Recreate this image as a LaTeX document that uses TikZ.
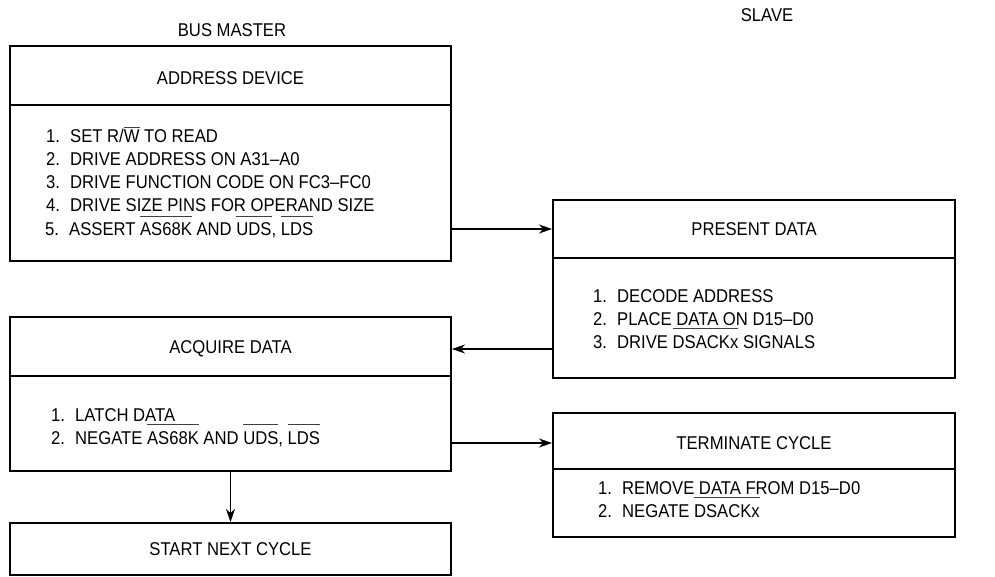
\documentclass[tikz,border=0pt]{standalone}
\usepackage{fontspec}
\setmainfont{Liberation Sans}[FakeStretch=0.9]
\usetikzlibrary{arrows.meta}
% signal name with an active-low bar drawn above it
\newcommand\ovl[2][1.05em]{{\setbox0\hbox{#2}\rlap{\raisebox{#1}{\color{black!75}\rule{\wd0}{1pt}}}\box0}}
\newcommand\num[1]{\makebox[24pt][l]{#1}}
\begin{document}
\begin{tikzpicture}[x=1pt,y=-1pt,
  box/.style={draw, line width=2pt, inner sep=0pt},
  lbl/.style={font=\fontsize{18.5}{23}\selectfont, inner sep=0pt},
  item/.style={lbl, anchor=base west},
  flow/.style={-{Stealth[length=13pt,width=9pt,inset=4pt]}, line width=1.2pt}]
\useasboundingbox (0,0) rectangle (995,577);

% column titles
\node[lbl] (master) at (232,30) {BUS MASTER};
\node[lbl] (slave) at (767,15) {SLAVE};

% boxes
\node[box, minimum width=441pt, minimum height=215pt] (addr) at (230.5,153.5) {};
\node[box, minimum width=441pt, minimum height=154pt] (acq) at (230.5,394) {};
\node[box, minimum width=441pt, minimum height=52pt] (start) at (230.5,549) {};
\node[box, minimum width=402pt, minimum height=178pt] (pres) at (754,289) {};
\node[box, minimum width=402pt, minimum height=124pt] (term) at (754,475) {};

% header dividers
\draw[line width=2pt] (addr.west |- 0,105) -- (addr.east |- 0,105);
\draw[line width=2pt] (acq.west |- 0,376) -- (acq.east |- 0,376);
\draw[line width=2pt] (pres.west |- 0,258) -- (pres.east |- 0,258);
\draw[line width=2pt] (term.west |- 0,469) -- (term.east |- 0,469);

% headers
\node[lbl] (addrH) at (230.5,78) {ADDRESS DEVICE};
\node[lbl] (acqH) at (230.5,349) {ACQUIRE DATA};
\node[lbl] (startH) at (230.5,549) {START NEXT CYCLE};
\node[lbl] (presH) at (754,229) {PRESENT DATA};
\node[lbl] (termH) at (754,443) {TERMINATE CYCLE};

% address device steps
\node[item] (a1) at (46,143) {\num{1.}SET R/\ovl[0.8em]{W} TO READ};
\node[item] (a2) at (46,166) {\num{2.}DRIVE ADDRESS ON A31–A0};
\node[item] (a3) at (46,189) {\num{3.}DRIVE FUNCTION CODE ON FC3–FC0};
\node[item] (a4) at (46,212) {\num{4.}DRIVE SIZE PINS FOR OPERAND SIZE};
\node[item] (a5) at (45,236) {\num{5.}ASSERT \ovl{AS68K} AND \ovl{UDS}, \ovl{LDS}};

% present data steps
\node[item] (p1) at (593,302) {\num{1.}DECODE ADDRESS};
\node[item] (p2) at (593,325) {\num{2.}PLACE DATA ON D15–D0};
\node[item] (p3) at (593,348) {\num{3.}DRIVE \ovl{DSACKx} SIGNALS};

% acquire data steps
\node[item] (q1) at (51,421) {\num{1.}LATCH DATA};
\node[item] (q2) at (51,444) {\num{2.}NEGATE \ovl{AS68K} AND \ovl{UDS}, \ovl{LDS}};

% terminate cycle steps
\node[item] (t1) at (598,494) {\num{1.}REMOVE DATA FROM D15–D0};
\node[item] (t2) at (598,517) {\num{2.}NEGATE \ovl{DSACKx}};

% handshake
\draw[flow] (addr.east |- presH) -- (pres.west |- presH);
\draw[flow] (pres.west |- acqH) -- (acq.east |- acqH);
\draw[flow] (acq.east |- termH) -- (term.west |- termH);
\draw[flow] (acq.south) -- (start.north);
\end{tikzpicture}
\end{document}
